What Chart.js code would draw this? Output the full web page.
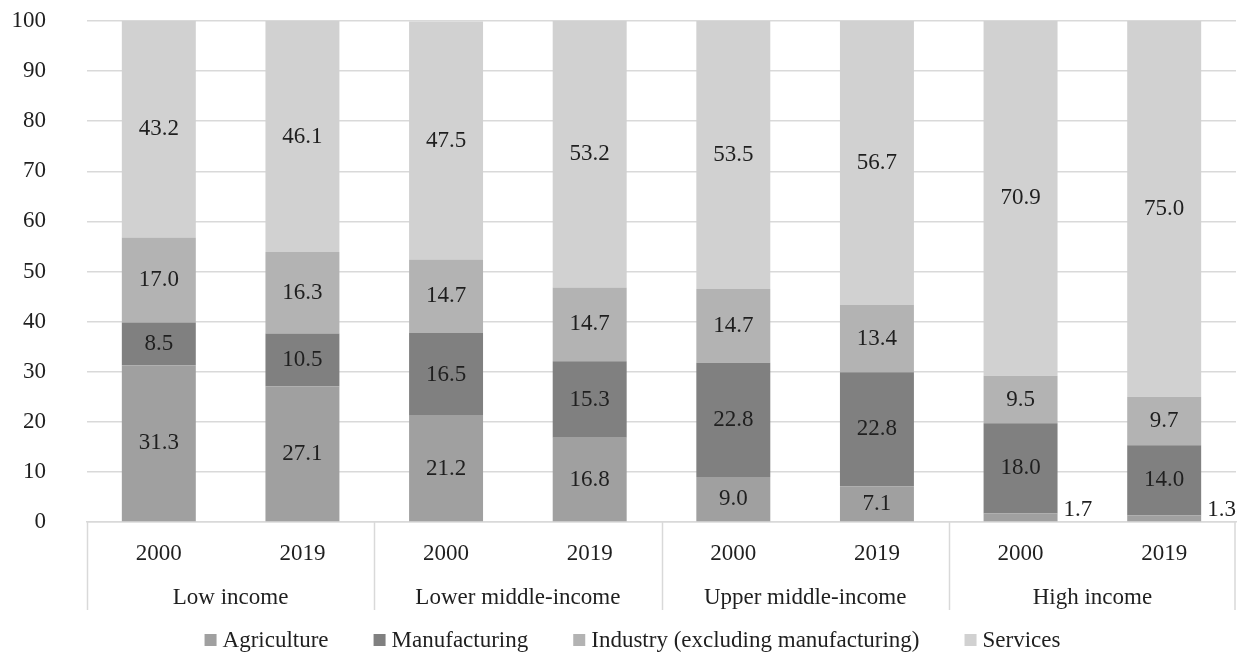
<!DOCTYPE html>
<html>
<head>
<meta charset="utf-8">
<script src="https://cdn.jsdelivr.net/npm/chart.js@4.4.1/dist/chart.umd.min.js"></script>
<style>
  html, body { margin: 0; padding: 0; background: #fff; }
  #wrap { width: 1237px; height: 656px; }
</style>
</head>
<body>
<div id="wrap"><canvas id="shareChart"></canvas></div>
<script>
// income groups and years
var groups = ['Low income', 'Lower middle-income', 'Upper middle-income', 'High income'];
var years = ['2000', '2019', '2000', '2019', '2000', '2019', '2000', '2019'];

// shares in %
var agriculture   = [31.3, 27.1, 21.2, 16.8, 9.0, 7.1, 1.7, 1.3];
var manufacturing = [8.5, 10.5, 16.5, 15.3, 22.8, 22.8, 18.0, 14.0];
var industry      = [17.0, 16.3, 14.7, 14.7, 14.7, 13.4, 9.5, 9.7];
var services      = [43.2, 46.1, 47.5, 53.2, 53.5, 56.7, 70.9, 75.0];

var gridGray = '#d9d9d9';
var txt = '#1f1f1f';
var fontStr = '23px "Liberation Serif", "Times New Roman", serif';
Chart.defaults.font.family = '"Liberation Serif", "Times New Roman", serif';
Chart.defaults.font.size = 23;
Chart.defaults.color = txt;

// value labels in the middle of each piece, tiny ones go beside the bar
var segLabels = {
    id: 'segLabels',
    afterDatasetsDraw: function (chart) {
        var ctx = chart.ctx;
        ctx.save();
        ctx.font = fontStr;
        ctx.fillStyle = txt;
        ctx.textBaseline = 'middle';
        chart.data.datasets.forEach(function (ds, di) {
            var meta = chart.getDatasetMeta(di);
            meta.data.forEach(function (bar, i) {
                var v = ds.data[i];
                var s = v.toFixed(1);
                if (v < 3) {
                    ctx.textAlign = 'left';
                    ctx.fillText(s, bar.x + bar.width / 2 + 6, bar.base - 11);
                } else {
                    ctx.textAlign = 'center';
                    ctx.fillText(s, bar.x, (bar.y + bar.base) / 2);
                }
            });
        });
        ctx.restore();
    }
};

// vertical lines between the income groups + the legend at the bottom
var groupLines = {
    id: 'groupLines',
    afterDraw: function (chart) {
        var sx = chart.scales.x2;
        var ctx = chart.ctx;
        var w = (sx.right - sx.left) / groups.length;
        ctx.save();
        ctx.strokeStyle = gridGray;
        ctx.lineWidth = 1.5;
        for (var k = 0; k <= groups.length; k++) {
            var px = Math.round(sx.left + k * w) + 0.5;
            if (k == groups.length) px = sx.right - 1;
            ctx.beginPath();
            ctx.moveTo(px, chart.chartArea.bottom);
            ctx.lineTo(px, sx.bottom - 2);
            ctx.stroke();
        }

        // legend
        ctx.font = fontStr;
        ctx.textBaseline = 'middle';
        ctx.textAlign = 'left';
        var boxGap = 6, itemGap = 45, box = 12;
        var total = 0;
        chart.data.datasets.forEach(function (ds, i) {
            total += box + boxGap + ctx.measureText(ds.label).width;
            if (i > 0) total += itemGap;
        });
        var lx = chart.width / 2 + 14 - total / 2;
        var ly = 641;
        chart.data.datasets.forEach(function (ds) {
            ctx.fillStyle = ds.backgroundColor;
            ctx.fillRect(lx, ly - box / 2 - 1, box, box);
            lx += box + boxGap;
            ctx.fillStyle = txt;
            ctx.fillText(ds.label, lx, ly);
            lx += ctx.measureText(ds.label).width + itemGap;
        });
        ctx.restore();
    }
};

var config = {
    type: 'bar',
    data: {
        labels: years,
        datasets: [
            { label: 'Agriculture', data: agriculture, backgroundColor: '#a0a0a0' },
            { label: 'Manufacturing', data: manufacturing, backgroundColor: '#808080' },
            { label: 'Industry (excluding manufacturing)', data: industry, backgroundColor: '#b3b3b3' },
            { label: 'Services', data: services, backgroundColor: '#d1d1d1' }
        ]
    },
    options: {
        responsive: true,
        maintainAspectRatio: false,
        animation: false,
        datasets: { bar: { categoryPercentage: 1, barPercentage: 0.515 } },
        layout: { autoPadding: false, padding: { left: 10, right: 1, top: 21, bottom: 44 } },
        plugins: {
            tooltip: { enabled: false },
            legend: { display: false }
        },
        scales: {
            x: {
                stacked: true,
                grid: { display: false, drawTicks: false },
                border: { color: gridGray, width: 1.5 },
                ticks: { padding: 18, color: txt, maxRotation: 0 },
                afterFit: function (scale) { scale.height = 45; }
            },
            x2: {
                type: 'category',
                labels: groups,
                position: 'bottom',
                weight: 1,
                offset: true,
                grid: { display: false, drawTicks: false },
                border: { display: false },
                ticks: { padding: 17, color: txt, maxRotation: 0 },
                afterFit: function (scale) { scale.height = 45; }
            },
            y: {
                stacked: true,
                min: 0,
                max: 100,
                ticks: { stepSize: 10, padding: 41, color: txt },
                grid: { color: gridGray, lineWidth: 1.5, drawTicks: false },
                border: { display: false },
                afterFit: function (scale) {
                    scale.width = 77;
                    // tick padding would otherwise push the plot down
                    scale.paddingTop = 0;
                    scale.paddingBottom = 0;
                }
            }
        }
    },
    plugins: [segLabels, groupLines]
};

var ctx = document.getElementById('shareChart').getContext('2d');
window.myBar = new Chart(ctx, config);
</script>
</body>
</html>
